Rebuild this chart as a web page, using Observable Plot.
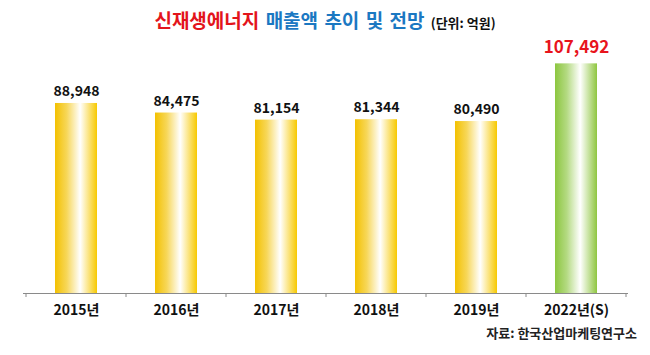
<!DOCTYPE html>
<html><head><meta charset="utf-8">
<script src="https://cdn.jsdelivr.net/npm/d3@7"></script>
<script src="https://cdn.jsdelivr.net/npm/@observablehq/plot@0.6"></script>
<style>
body{margin:0;background:#fff;width:650px;height:355px;overflow:hidden;font-family:"Noto Sans CJK KR","Noto Sans",sans-serif}
#title{height:40px;line-height:40px;text-align:center;font-weight:bold;font-size:19px;white-space:nowrap;word-spacing:2px}
#chart svg{display:block}
#caption{height:16px;line-height:16px;text-align:right;padding-right:13px;font-size:13px;font-weight:bold;color:#222;white-space:nowrap}
</style></head><body>
<div id="title"><span style="color:#e3141b">신재생에너지</span> <span style="color:#1b78c2">매출액 추이 및 전망</span> <span style="font-size:13px;color:#111;word-spacing:0">(단위: 억원)</span></div>
<div id="chart"></div>
<div id="caption">자료: 한국산업마케팅연구소</div>
<script>
const years = ["2015년","2016년","2017년","2018년","2019년","2022년(S)"];
const sales = [88948, 84475, 81154, 81344, 80490, 107492];
const projected = [false, false, false, false, false, true];

const data = years.map((y, i) => ({year: y, value: sales[i], proj: projected[i]}));
const actual = data.filter(d => !d.proj);
const forecast = data.filter(d => d.proj);
const fmt = d3.format(",");

function defs() {
  const g = d3.create("svg:defs");
  const mk = (id, edgeL, edgeR) => {
    const lg = g.append("linearGradient").attr("id", id).attr("x1", 0).attr("x2", 1).attr("y1", 0).attr("y2", 0);
    lg.append("stop").attr("offset", "0%").attr("stop-color", edgeL);
    lg.append("stop").attr("offset", "28%").attr("stop-color", d3.interpolateRgb(edgeL, "#fff")(0.35));
    lg.append("stop").attr("offset", "60%").attr("stop-color", "#ffffff");
    lg.append("stop").attr("offset", "100%").attr("stop-color", edgeR);
  };
  mk("gold", "#f3c100", "#f7c900");
  mk("green", "#8cc63f", "#8fc640");
  return g.node();
}

function boundaryTicks(index, scales, values, dimensions) {
  const g = d3.create("svg:g").attr("stroke", "#8a8a8a").attr("stroke-width", 1);
  const {width, height, marginLeft, marginRight, marginBottom} = dimensions;
  const n = years.length;
  let edges;
  const x = scales && scales.x;
  if (x && typeof x.step === "function") {
    const step = x.step(), bw = x.bandwidth();
    edges = years.map(y => x(y) + bw / 2 - step / 2);
    edges.push(x(years[n - 1]) + bw / 2 + step / 2);
  } else {
    const w = (width - marginLeft - marginRight) / n;
    edges = d3.range(n + 1).map(i => marginLeft + i * w);
  }
  const y0 = height - marginBottom;
  edges.forEach(e => g.append("line").attr("x1", e).attr("x2", e).attr("y1", y0).attr("y2", y0 + 4));
  return g.node();
}

const chart = Plot.plot({
  width: 650,
  height: 285,
  marginLeft: 23,
  marginRight: 22,
  marginTop: 18,
  marginBottom: 32,
  x: {domain: years, paddingInner: 0.58, paddingOuter: 0.29, label: null, tickSize: 0, tickPadding: 12},
  y: {domain: [0, 110000], axis: null},
  style: {fontFamily: "'Noto Sans CJK KR','Noto Sans',sans-serif", fontSize: "14px", fontWeight: "bold", color: "#111", background: "white", overflow: "visible"},
  marks: [
    defs,
    Plot.barY(actual, {x: "year", y: "value", fill: "url(#gold)"}),
    Plot.barY(forecast, {x: "year", y: "value", fill: "url(#green)"}),
    Plot.ruleY([0], {stroke: "#8a8a8a", strokeWidth: 1.2}),
    boundaryTicks,
    Plot.text(actual, {x: "year", y: "value", text: d => fmt(d.value), dy: -12, fontSize: 14, fontWeight: "bold", fill: "#111"}),
    Plot.text(forecast, {x: "year", y: "value", text: d => fmt(d.value), dy: -16, fontSize: 17, fontWeight: "bold", fill: "#e8141c"})
  ]
});
document.getElementById("chart").appendChild(chart);
</script>
</body></html>
